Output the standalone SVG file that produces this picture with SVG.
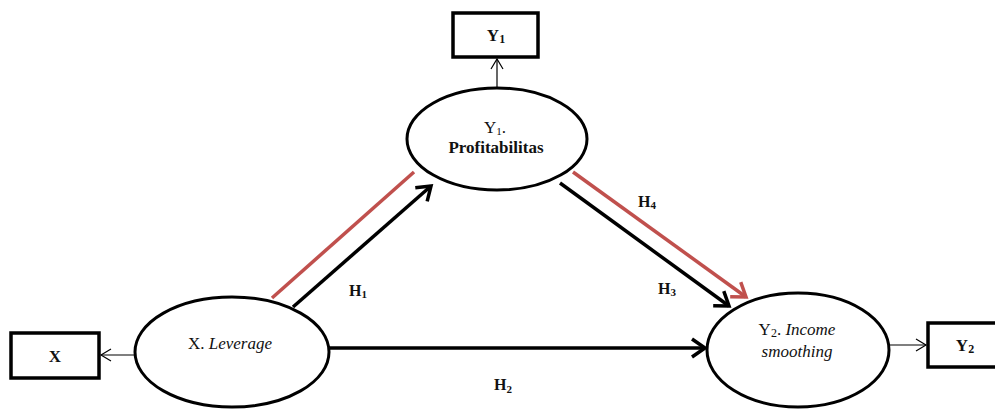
<svg xmlns="http://www.w3.org/2000/svg" width="995" height="410" viewBox="0 0 995 410">
<style>
.node{fill:#fff;stroke:#000;stroke-width:3}
.box{fill:#fff;stroke:#000;stroke-width:3.5}
.t{font-family:"Liberation Serif",serif;font-size:17px;fill:#111;text-anchor:middle}
.bt{font-family:"Liberation Serif",serif;font-size:17px;font-weight:bold;fill:#111;text-anchor:middle}
.h{font-family:"Liberation Serif",serif;font-size:16px;font-weight:bold;fill:#111;text-anchor:middle}
.thin{stroke:#000;stroke-width:1.2;fill:none}
.thick{stroke:#000;stroke-width:3.5;fill:none}
.red{stroke:#c0504d;stroke-width:3.5;fill:none}
</style>
<defs>
<marker id="open" markerUnits="userSpaceOnUse" markerWidth="16" markerHeight="16" refX="12" refY="8" orient="auto">
<path d="M2,2 L12,8 L2,14" fill="none" stroke="#000" stroke-width="1.2"/>
</marker>
<marker id="chev" markerUnits="userSpaceOnUse" markerWidth="24" markerHeight="24" refX="19" refY="12" orient="auto">
<path d="M6,3 L19,12 L6,21" fill="none" stroke="#000" stroke-width="3.5" stroke-linejoin="miter"/>
</marker>
<marker id="chevr" markerUnits="userSpaceOnUse" markerWidth="24" markerHeight="24" refX="19" refY="12" orient="auto">
<path d="M6,3 L19,12 L6,21" fill="none" stroke="#c0504d" stroke-width="3.5" stroke-linejoin="miter"/>
</marker>
</defs>
<g id="connectors">
<line class="thin" x1="497" y1="89" x2="497" y2="59" marker-end="url(#open)"/>
<line class="thin" x1="135" y1="355" x2="101" y2="355" marker-end="url(#open)"/>
<line class="thin" x1="889" y1="345" x2="926" y2="345" marker-end="url(#open)"/>
<line class="red" x1="272" y1="298" x2="414" y2="172"/>
<line class="thick" x1="293" y1="307" x2="431" y2="186" marker-end="url(#chev)"/>
<line class="red" x1="573" y1="172" x2="746" y2="297" marker-end="url(#chevr)"/>
<line class="thick" x1="560" y1="183" x2="729" y2="306" marker-end="url(#chev)"/>
<line class="thick" x1="328" y1="348" x2="705" y2="348" marker-end="url(#chev)"/>
<text class="h" x="358" y="296">H<tspan font-size="11" dy="2">1</tspan></text>
<text class="h" x="647" y="207">H<tspan font-size="11" dy="2">4</tspan></text>
<text class="h" x="667" y="294">H<tspan font-size="11" dy="2">3</tspan></text>
<text class="h" x="503" y="390">H<tspan font-size="11" dy="3">2</tspan></text>
</g>
<g id="boxY1">
<rect class="box" x="453" y="13" width="85" height="44"/>
<text class="bt" x="496" y="41">Y<tspan font-size="12" dy="2">1</tspan></text>
</g>
<g id="boxX">
<rect class="box" x="11" y="333" width="88" height="45"/>
<text class="bt" x="55" y="362">X</text>
</g>
<g id="boxY2">
<rect class="box" x="928" y="323" width="75" height="44"/>
<text class="bt" x="965" y="351">Y<tspan font-size="12" dy="2">2</tspan></text>
</g>
<g id="nodeY1">
<ellipse class="node" cx="497" cy="139" rx="90" ry="51"/>
<text class="t" x="495" y="133" font-size="16">Y<tspan font-size="11" dy="2">1</tspan><tspan dy="-2">.</tspan></text>
<text class="t" x="496" y="153" font-size="16" font-weight="bold">Profitabilitas</text>
</g>
<g id="nodeX">
<ellipse class="node" cx="232" cy="352" rx="97" ry="55"/>
<text class="t" x="230" y="349">X. <tspan font-style="italic">Leverage</tspan></text>
</g>
<g id="nodeY2">
<ellipse class="node" cx="798" cy="350" rx="91" ry="57"/>
<text class="t" x="797" y="335">Y<tspan font-size="12" dy="2">2</tspan><tspan dy="-2">. </tspan><tspan font-style="italic">Income</tspan></text>
<text class="t" x="797" y="357" font-style="italic">smoothing</text>
</g>
</svg>
